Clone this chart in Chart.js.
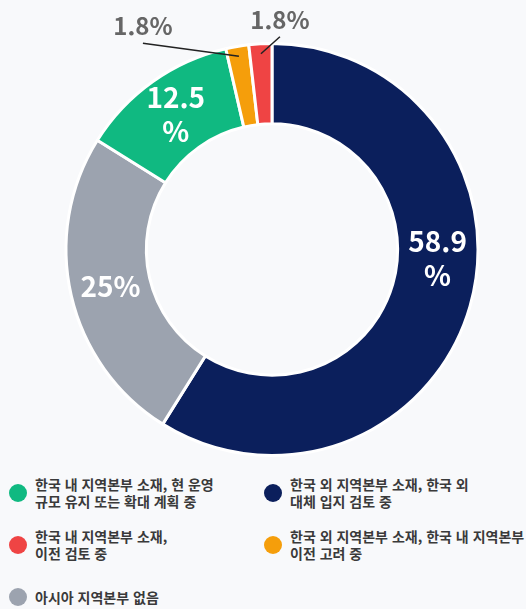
<!DOCTYPE html>
<html lang="ko">
<head>
<meta charset="utf-8">
<script src="https://cdn.jsdelivr.net/npm/chart.js@4.4.0/dist/chart.umd.min.js"></script>
<style>
  html, body { margin: 0; padding: 0; background: #f8f9fb; }
  body { width: 526px; height: 609px; position: relative; overflow: hidden;
         font-family: 'Noto Sans CJK KR', 'Noto Sans', sans-serif; }
  #wrap { position: absolute; left: 0; top: 0; width: 526px; height: 460px; }
  #legend { position: absolute; left: 9px; top: 476px; width: 517px;
            display: grid; grid-template-columns: 255px 1fr; row-gap: 18px; }
  .item { display: flex; align-items: center; }
  .item.last { margin-top: 8px; }
  .dot { width: 18px; height: 18px; border-radius: 50%; flex: none; margin-right: 8px; }
  .txt { font-size: 14px; line-height: 17px; font-weight: 700; color: #3a3a3a; white-space: nowrap; }
</style>
</head>
<body>
<div id="wrap"><canvas id="donut" width="526" height="460"></canvas></div>
<div id="legend"></div>

<script>
/* ---- Dados ---- */
const labels = [
  ['한국 외 지역본부 소재, 한국 외', '대체 입지 검토 중'],
  ['아시아 지역본부 없음'],
  ['한국 내 지역본부 소재, 현 운영', '규모 유지 또는 확대 계획 중'],
  ['한국 외 지역본부 소재, 한국 내 지역본부', '이전 고려 중'],
  ['한국 내 지역본부 소재,', '이전 검토 중'],
];
const values = [58.9, 25, 12.5, 1.8, 1.8];
const colors = ['#0b1f5c', '#9ca3af', '#10b981', '#f59e0b', '#ef4444'];
const legendOrder = [2, 0, 4, 3, 1];

/* ---- Rótulos das fatias ---- */
const sliceLabels = {
  id: 'sliceLabels',
  afterDatasetsDraw(chart, args, opts) {
    const ctx = chart.ctx;
    const meta = chart.getDatasetMeta(0);
    meta.data.forEach((arc, i) => {
      const v = values[i];
      const p = arc.getProps(['x', 'y', 'startAngle', 'endAngle', 'innerRadius', 'outerRadius'], true);
      const text = v + '%';
      const mid = (p.startAngle + p.endAngle) / 2 + (opts.angleShift[i] || 0) * Math.PI / 180;
      ctx.save();
      ctx.textAlign = 'center';
      ctx.textBaseline = 'middle';
      if (v >= opts.minInside) {
        const r = (p.innerRadius + p.outerRadius) / 2;
        const x = p.x + Math.cos(mid) * r;
        const y = p.y + Math.sin(mid) * r;
        ctx.font = 'bold 28px "Noto Sans CJK KR"';
        ctx.fillStyle = '#ffffff';
        if (ctx.measureText(text).width > opts.maxWidth) {
          ctx.fillText(String(v), x, y - 17);
          ctx.fillText('%', x, y + 17);
        } else {
          ctx.fillText(text, x, y);
        }
      } else {
        const r = p.outerRadius - 10;
        const x0 = p.x + Math.cos(mid) * r;
        const y0 = p.y + Math.sin(mid) * r;
        const c = opts.callouts[i] || { dx: 0, dy: -20 };
        const x1 = x0 + c.dx, y1 = y0 + c.dy;
        ctx.strokeStyle = '#222';
        ctx.lineWidth = 1.5;
        ctx.beginPath();
        ctx.moveTo(x0, y0);
        ctx.lineTo(x1, y1);
        ctx.stroke();
        ctx.font = 'bold 24px "Noto Sans CJK KR"';
        ctx.fillStyle = '#666666';
        ctx.fillText(text, x1, y1 - 17);
      }
      ctx.restore();
    });
  }
};

new Chart(document.getElementById('donut'), {
  type: 'doughnut',
  data: {
    labels: labels,
    datasets: [{
      data: values,
      backgroundColor: colors,
      borderColor: '#ffffff',
      borderWidth: 3,
      hoverOffset: 0,
    }],
  },
  options: {
    responsive: false,
    animation: false,
    cutout: '61%',
    layout: { padding: { left: 18, top: 42, bottom: 3, right: 0 } },
    events: [],
    plugins: {
      legend: { display: false },
      tooltip: { enabled: false },
      sliceLabels: {
        minInside: 5,
        maxWidth: 62,
        angleShift: { 0: -13 },
        callouts: { 3: { dx: -96, dy: -13 }, 4: { dx: 19, dy: -17 } },
      },
    },
  },
  plugins: [sliceLabels],
});

/* ---- Legenda ---- */
const legendEl = document.getElementById('legend');
legendOrder.forEach((idx, n) => {
  const item = document.createElement('div');
  item.className = 'item' + (n === legendOrder.length - 1 ? ' last' : '');
  const dot = document.createElement('span');
  dot.className = 'dot';
  dot.style.background = colors[idx];
  const txt = document.createElement('div');
  txt.className = 'txt';
  txt.innerHTML = labels[idx].join('<br>');
  item.appendChild(dot);
  item.appendChild(txt);
  legendEl.appendChild(item);
});
</script>
</body>
</html>
